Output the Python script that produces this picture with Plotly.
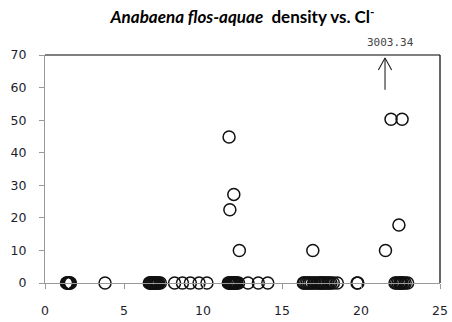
import plotly.graph_objects as go

# Chloride concentration (x) and Anabaena flos-aquae density (y)
cl_nonzero = [11.65, 11.95, 11.7, 12.3, 16.95, 21.55, 22.4, 21.9, 22.6]
dens_nonzero = [44.8, 27.2, 22.5, 10.0, 10.0, 10.0, 17.8, 50.3, 50.3]

cl_zero = [
    1.36, 1.4, 1.45, 1.5, 1.53, 1.57, 1.61,
    3.8,
    6.6, 6.65, 6.7, 6.75, 6.8, 6.85, 6.9, 6.95, 7.0, 7.05, 7.1, 7.15, 7.2, 7.3,
    8.2, 8.7, 9.2, 9.75, 10.25,
    11.6, 11.65, 11.7, 11.75, 11.8, 11.85, 11.9, 11.95, 12.0, 12.05, 12.1, 12.15, 12.25,
    12.85, 13.5, 14.1,
    16.35, 16.4, 16.5, 16.6, 16.7, 16.75, 16.85, 17.0, 17.05, 17.2, 17.3, 17.4,
    17.45, 17.55, 17.6, 17.7, 17.8, 17.9, 18.0, 18.1, 18.25, 18.5,
    19.75, 19.8,
    22.15, 22.25, 22.35, 22.45, 22.5, 22.55, 22.6, 22.7, 22.8, 22.95,
]
dens_zero = [0.0] * len(cl_zero)

# One sample lies far above the axis range; it is marked with an arrow
offscale_cl = 21.52
offscale_value = 3003.34

x_ticks = [0, 5, 10, 15, 20, 25]
y_ticks = [0, 10, 20, 30, 40, 50, 60, 70]

xs = cl_zero + cl_nonzero
ys = dens_zero + dens_nonzero

fig = go.Figure()
fig.add_trace(go.Scatter(
    x=xs, y=ys, mode="markers",
    marker=dict(symbol="circle-open", size=12, color="#111111",
                line=dict(width=1.5, color="#111111")),
    cliponaxis=False, showlegend=False,
))

# Upward arrow for the off-scale sample
fig.add_trace(go.Scatter(
    x=[offscale_cl, offscale_cl, None, offscale_cl - 0.42, offscale_cl, offscale_cl + 0.42],
    y=[59.3, 69.1, None, 65.4, 69.1, 65.4],
    mode="lines", line=dict(color="#222222", width=1.1),
    cliponaxis=False, showlegend=False, hoverinfo="skip",
))

fig.add_annotation(
    x=offscale_cl, y=70, xref="x", yref="y",
    text=f"{offscale_value:.2f}", showarrow=False,
    yanchor="bottom", yshift=4, xshift=5,
    font=dict(family="DejaVu Sans Mono", size=11, color="#444444"),
)

tick_font = dict(family="DejaVu Sans", size=12.5, color="#1e1e2e")

fig.update_layout(
    width=452, height=322,
    margin=dict(l=45, r=12, t=55, b=39, autoexpand=False),
    paper_bgcolor="white", plot_bgcolor="white",
    title=dict(
        text="<i>Anabaena flos-aquae</i>  density vs. Cl<sup>-</sup>",
        x=(45 + 440) / 2 / 452, xanchor="center", y=1 - 17 / 322, yanchor="middle",
        font=dict(family="Lato", size=17, color="#000000", weight="bold"),
    ),
    xaxis=dict(
        range=[0, 25], tickvals=x_ticks, ticks="outside", ticklen=5,
        tickcolor="#999999", showline=True, linecolor="#999999", linewidth=1,
        showgrid=False, zeroline=False, tickfont=tick_font,
        ticklabelstandoff=11, automargin=False,
    ),
    yaxis=dict(
        range=[0, 70], tickvals=y_ticks, ticks="outside", ticklen=5,
        tickcolor="#999999", showline=True, linecolor="#999999", linewidth=1,
        showgrid=False, zeroline=False, tickfont=tick_font,
        ticklabelstandoff=10, automargin=False,
    ),
    shapes=[
        dict(type="line", xref="paper", yref="paper", x0=0, x1=1, y0=1, y1=1,
             line=dict(color="#000000", width=1.2)),
        dict(type="line", xref="paper", yref="paper", x0=1, x1=1, y0=0, y1=1,
             line=dict(color="#000000", width=1.2)),
    ],
)

fig.write_html("out.html")
